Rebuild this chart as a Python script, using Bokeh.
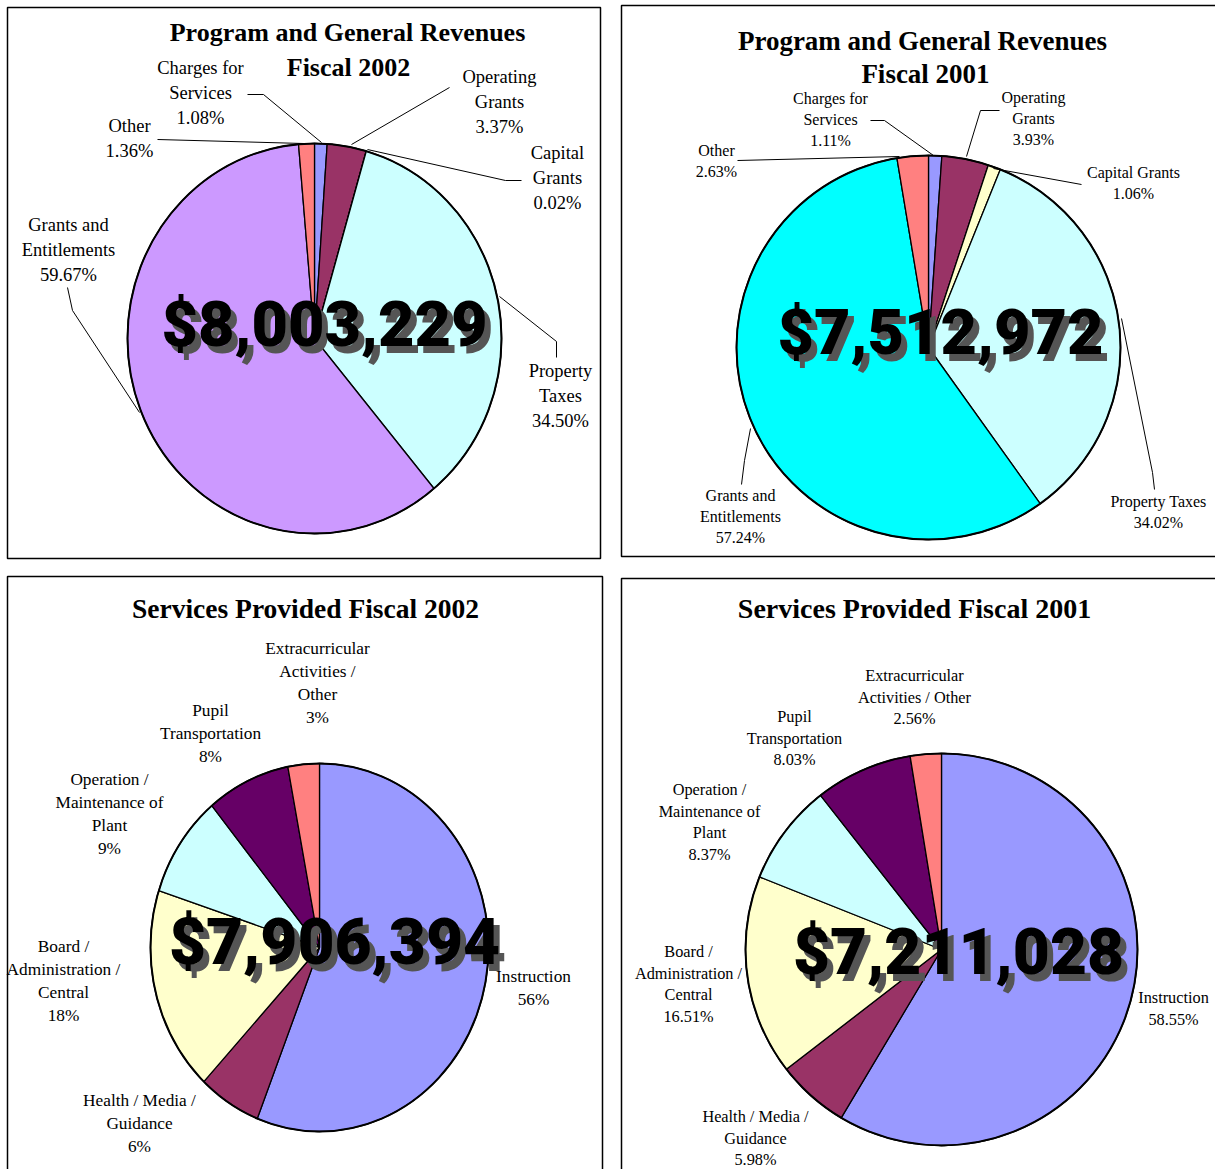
import numpy as np
from bokeh.plotting import figure
from bokeh.models import Range1d
from bokeh.core.properties import value
from bokeh.embed import file_html
from bokeh.resources import INLINE

# ---------------- data ----------------
rev_categories = ["Charges for Services", "Operating Grants", "Capital Grants",
                  "Property Taxes", "Grants and Entitlements", "Other"]
rev_2002_pct = [1.08, 3.37, 0.02, 34.50, 59.67, 1.36]
rev_2001_pct = [1.11, 3.93, 1.06, 34.02, 57.24, 2.63]

svc_categories = ["Instruction", "Health / Media / Guidance", "Board / Administration / Central",
                  "Operation / Maintenance of Plant", "Pupil Transportation",
                  "Extracurricular Activities / Other"]
svc_2002_pct = [56, 6, 18, 9, 8, 3]
svc_2001_pct = [58.55, 5.98, 16.51, 8.37, 8.03, 2.56]

totals = [8003229, 7512972, 7906394, 7211028]

rev_2002_colors = ["#9999FF", "#993366", "#FFFFCC", "#CCFFFF", "#CC99FF", "#FF8080"]
rev_2001_colors = ["#9999FF", "#993366", "#FFFFCC", "#CCFFFF", "#00FFFF", "#FF8080"]
svc_colors = ["#9999FF", "#993366", "#FFFFCC", "#CCFFFF", "#660066", "#FF8080"]

rev_2002_label_lines = [["Charges for", "Services"], ["Operating", "Grants"], ["Capital", "Grants"],
                        ["Property", "Taxes"], ["Grants and", "Entitlements"], ["Other"]]
rev_2001_label_lines = [["Charges for", "Services"], ["Operating", "Grants"], ["Capital Grants"],
                        ["Property Taxes"], ["Grants and", "Entitlements"], ["Other"]]
svc_2002_label_lines = [["Instruction"], ["Health / Media /", "Guidance"],
                        ["Board /", "Administration /", "Central"],
                        ["Operation /", "Maintenance of", "Plant"], ["Pupil", "Transportation"],
                        ["Extracurricular", "Activities /", "Other"]]
svc_2001_label_lines = [["Instruction"], ["Health / Media /", "Guidance"],
                        ["Board /", "Administration /", "Central"],
                        ["Operation /", "Maintenance of", "Plant"], ["Pupil", "Transportation"],
                        ["Extracurricular", "Activities / Other"]]

# ---------------- figure ----------------
W, H = 1215, 1169
p = figure(width=W, height=H, x_range=Range1d(0, W), y_range=Range1d(H, 0),
           output_backend="svg", toolbar_location=None, min_border=0)
p.axis.visible = False
p.grid.visible = False
p.outline_line_color = None
p.background_fill_color = "white"

SERIF = value("Liberation Serif")
BIG = value("Roboto Black, Liberation Sans, sans-serif")


def draw_panel(box, titles, title_size, cx, cy, rx, ry, pcts, colors, label_lines, fmt,
               label_pos, line_h, font_size, leaders, total, total_pos, big_size):
    l, r, t, b = box
    p.quad(left=[l], right=[r], top=[t], bottom=[b], fill_color=None,
           line_color="black", line_width=1.5)
    for (txt, tx, ty) in titles:
        p.text(x=[tx], y=[ty], text=[txt], text_font=SERIF, text_font_style="bold",
               text_font_size=f"{title_size}px", text_align="center",
               text_baseline="middle", text_color="black")
    # slices (clockwise from 12 o'clock)
    vals = np.array(pcts, dtype=float)
    frac = vals / vals.sum()
    cum = np.concatenate([[0], np.cumsum(frac)]) * 2 * np.pi
    xs, ys = [], []
    for i in range(len(vals)):
        n = max(3, int(frac[i] * 400))
        th = np.linspace(cum[i], cum[i + 1], n)
        xs.append([cx] + list(cx + rx * np.sin(th)))
        ys.append([cy] + list(cy - ry * np.cos(th)))
    p.patches(xs, ys, fill_color=colors, line_color="black", line_width=1.3)
    p.ellipse(x=[cx], y=[cy], width=[2 * rx], height=[2 * ry], fill_color=None,
              line_color="black", line_width=2)
    # leader lines
    if leaders:
        p.multi_line([[pt[0] for pt in ln] for ln in leaders],
                     [[pt[1] for pt in ln] for ln in leaders],
                     line_color="black", line_width=1)
    # labels
    lx, ly, lt = [], [], []
    for i, lines in enumerate(label_lines):
        full = lines + [fmt.format(pcts[i])]
        x0, y0 = label_pos[i]
        for k, s in enumerate(full):
            lx.append(x0)
            ly.append(y0 + k * line_h)
            lt.append(s)
    p.text(x=lx, y=ly, text=lt, text_font=SERIF, text_font_size=f"{font_size}px",
           text_align="center", text_baseline="middle", text_color="black")
    # big total with shadow
    s = "${:,}".format(total)
    tx, ty = total_pos
    p.text(x=[tx + 6], y=[ty + 7], text=[s], text_font=BIG, text_font_style="bold",
           text_font_size=f"{big_size}px", text_align="center", text_baseline="middle",
           text_color="#555555")
    p.text(x=[tx], y=[ty], text=[s], text_font=BIG, text_font_style="bold",
           text_font_size=f"{big_size}px", text_align="center", text_baseline="middle",
           text_color="black")


# Panel 1: Revenues 2002
draw_panel(box=(7, 600, 7, 558),
           titles=[("Program and General Revenues", 347, 32), ("Fiscal 2002", 348, 67)],
           title_size=26, cx=314, cy=338, rx=187, ry=195,
           pcts=rev_2002_pct, colors=rev_2002_colors, label_lines=rev_2002_label_lines,
           fmt="{:.2f}%",
           label_pos=[(200, 67), (499, 76), (557, 152), (560, 370), (68, 224), (129, 125)],
           line_h=25.3, font_size=18.5,
           leaders=[[(247, 94), (263, 94), (321, 142)],
                    [(449, 87), (351, 144)],
                    [(367, 149), (505, 180), (521, 180)],
                    [(499, 296), (556, 341), (556, 357)],
                    [(67, 287), (72, 310), (139, 412)],
                    [(157, 139), (303, 143)]],
           total=totals[0], total_pos=(324, 324), big_size=63)

# Panel 2: Revenues 2001
draw_panel(box=(621, 1230, 5, 556),
           titles=[("Program and General Revenues", 922, 40), ("Fiscal 2001", 925, 73)],
           title_size=27, cx=928, cy=347, rx=192, ry=192,
           pcts=rev_2001_pct, colors=rev_2001_colors, label_lines=rev_2001_label_lines,
           fmt="{:.2f}%",
           label_pos=[(830, 98), (1033, 97), (1133, 172), (1158, 501), (740, 495), (716, 150)],
           line_h=21, font_size=16,
           leaders=[[(870, 120), (884, 120), (933, 155)],
                    [(999, 110), (980, 110), (966, 156)],
                    [(993, 168), (1081, 184)],
                    [(1121, 318), (1152, 472), (1154, 489)],
                    [(741, 484), (744, 460), (750, 428)],
                    [(737, 160), (899, 156)]],
           total=totals[1], total_pos=(940, 332), big_size=63)

# Panel 3: Services 2002
draw_panel(box=(7, 602, 576, 1185),
           titles=[("Services Provided Fiscal 2002", 305, 608)],
           title_size=27.5, cx=319, cy=947, rx=169, ry=184,
           pcts=svc_2002_pct, colors=svc_colors, label_lines=svc_2002_label_lines,
           fmt="{:.0f}%",
           label_pos=[(533, 976), (139, 1100), (63, 946), (109, 779), (210, 710), (317, 648)],
           line_h=23, font_size=17.3, leaders=None,
           total=totals[2], total_pos=(334, 942), big_size=64)

# Panel 4: Services 2001
draw_panel(box=(621, 1230, 578, 1185),
           titles=[("Services Provided Fiscal 2001", 914, 608)],
           title_size=28, cx=941, cy=949, rx=196, ry=196,
           pcts=svc_2001_pct, colors=svc_colors, label_lines=svc_2001_label_lines,
           fmt="{:.2f}%",
           label_pos=[(1173, 997), (755, 1116), (688, 951), (709, 789), (794, 716), (914, 675)],
           line_h=21.5, font_size=16.3, leaders=None,
           total=totals[3], total_pos=(958, 952), big_size=64)

open("out.html", "w").write(file_html(p, INLINE))
